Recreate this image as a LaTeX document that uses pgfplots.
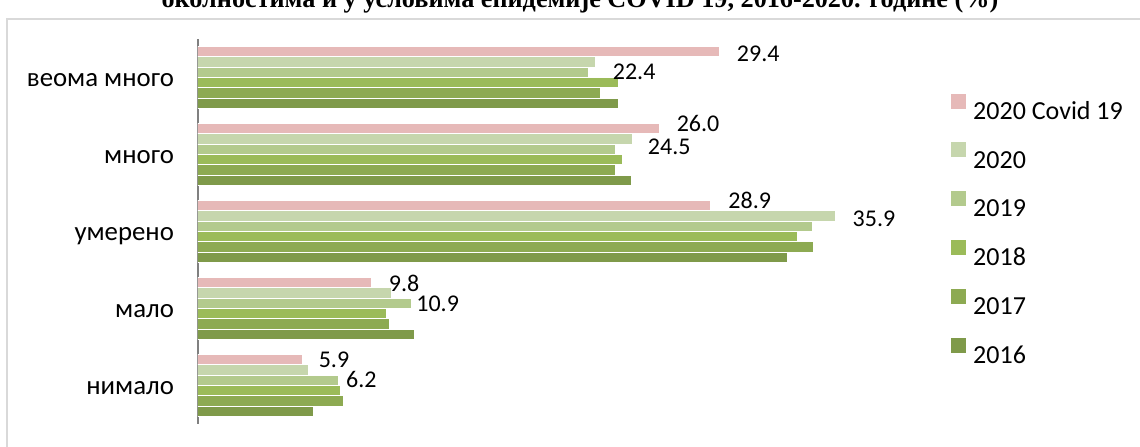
\documentclass[border=0pt]{standalone}
\usepackage{pgfplots}
\pgfplotsset{compat=1.18}
\usepackage{pgfplotstable}
\usepackage{fontspec}
\setmainfont{Carlito}
\newfontfamily\titlefont{Liberation Serif}

\definecolor{cCovid}{HTML}{E6B9B8}
\definecolor{cA}{HTML}{C6D6AD}
\definecolor{cB}{HTML}{B3CA8D}
\definecolor{cC}{HTML}{9BBB59}
\definecolor{cD}{HTML}{8DAA52}
\definecolor{cE}{HTML}{7F9A4A}

% y: 0 = veoma mnogo ... 4 = nimalo
\pgfplotstableread{
y  cov   y2020 y2019 y2018 y2017 y2016
0  29.4  22.4  22.0  23.7  22.7  23.7
1  26.0  24.5  23.5  23.9  23.5  24.4
2  28.9  35.9  34.6  33.8  34.7  33.2
3  9.8   10.9  12.0  10.6  10.8  12.2
4  5.9   6.2   7.9   8.0   8.2   6.5
}\data

% label offsets (pt) for the two labelled series
\pgfplotstableread{
y  cdx  cdy  ndx  ndy
0  8.3 -1.1  8.4 -4.8
1  8.4  2.9  7.3 -3.8
2  8.5  2.9  8.5 -1.2
3  8.2 -0.3 12.2 -5.4
4  7.8 -0.1 18.8 -4.7
}\offs
\pgfplotstablecreatecol[copy column from table={\offs}{cdx}]{cdx}\data
\pgfplotstablecreatecol[copy column from table={\offs}{cdy}]{cdy}\data
\pgfplotstablecreatecol[copy column from table={\offs}{ndx}]{ndx}\data
\pgfplotstablecreatecol[copy column from table={\offs}{ndy}]{ndy}\data

\begin{document}
\begin{tikzpicture}
\useasboundingbox (0,0) rectangle (570pt,223pt);
\draw[gray!30, line width=0.6pt] (3.5pt,-5pt) rectangle (580pt,213.5pt);
\node[anchor=base, inner sep=0pt, font=\titlefont\bfseries\fontsize{13.1}{15}\selectfont]
  at (290pt,219.5pt) {околностима и у условима епидемије COVID 19, 2016-2020. године (\%)};

\begin{axis}[
  at={(99pt,11pt)}, anchor=south west,
  width=355pt, height=192.5pt, scale only axis,
  xbar, bar width=0.1333,
  xmin=0, xmax=40,
  ymin=-0.5, ymax=4.5, y dir=reverse,
  ytick={0,1,2,3,4},
  yticklabels={веома много, много, умерено, мало, нимало},
  axis x line=none, axis y line=left,
  y axis line style={-, draw=gray, line width=0.6pt},
  ytick style={draw=none},
  yticklabel style={font=\fontsize{13.4}{15}\selectfont, anchor=base east, inner sep=0pt, yshift=-4.4pt},
  yticklabel shift=9.7pt,
  legend style={draw=none, fill=none, at={(1.0606,0.508)}, anchor=west,
    inner sep=0pt, outer sep=0pt, row sep=11.6pt, column sep=3.6pt,
    nodes={inner sep=0pt, text height=9pt, text depth=0pt, font=\fontsize{13}{15}\selectfont}},
  legend cell align=left,
  legend image code/.code={\fill[#1, draw=none] (0pt,0.8pt) rectangle (7.5pt,8.3pt);},
  every axis plot/.append style={draw=white, line width=0.5pt},
]
\addplot[fill=cCovid, bar shift=-0.3333,
  point meta=explicit symbolic,
  nodes near coords={\pgfplotspointmeta},
  visualization depends on={\thisrow{cdx}\as\ldx},
  visualization depends on={\thisrow{cdy}\as\ldy},
  every node near coord/.append style={anchor=west, inner sep=0pt, text=black,
    xshift=\ldx pt, yshift=\ldy pt, font=\fontsize{12}{14}\selectfont}]
  table[x=cov, y=y, meta=cov] {\data};
\addlegendentry{2020 Covid 19}
\addplot[fill=cA, bar shift=-0.2,
  point meta=explicit symbolic,
  nodes near coords={\pgfplotspointmeta},
  visualization depends on={\thisrow{ndx}\as\ldx},
  visualization depends on={\thisrow{ndy}\as\ldy},
  every node near coord/.append style={anchor=west, inner sep=0pt, text=black,
    xshift=\ldx pt, yshift=\ldy pt, font=\fontsize{12}{14}\selectfont}]
  table[x=y2020, y=y, meta=y2020] {\data};
\addlegendentry{2020}
\addplot[fill=cB, bar shift=-0.0667] table[x=y2019, y=y] {\data};
\addlegendentry{2019}
\addplot[fill=cC, bar shift=0.0667] table[x=y2018, y=y] {\data};
\addlegendentry{2018}
\addplot[fill=cD, bar shift=0.2] table[x=y2017, y=y] {\data};
\addlegendentry{2017}
\addplot[fill=cE, bar shift=0.3333] table[x=y2016, y=y] {\data};
\addlegendentry{2016}
\end{axis}
\end{tikzpicture}
\end{document}
